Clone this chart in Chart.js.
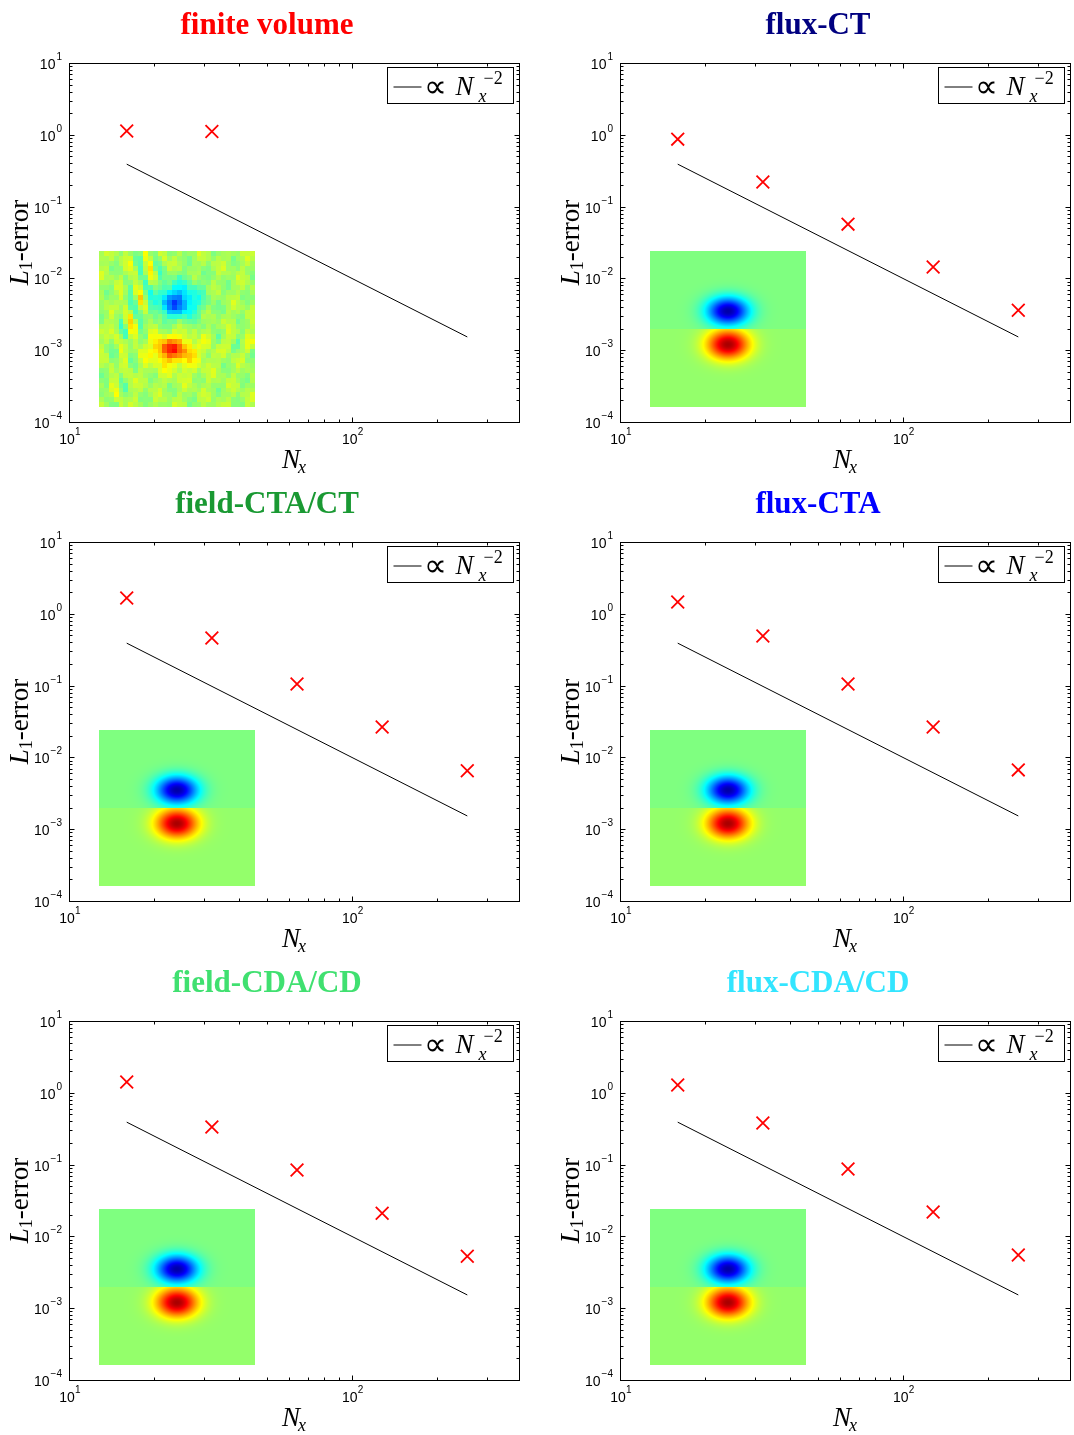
<!DOCTYPE html>
<html lang="en">
<head>
<meta charset="UTF-8">
<title>L1-error convergence</title>
<script src="https://cdn.jsdelivr.net/npm/chart.js@4.4.1/dist/chart.umd.min.js"></script>
<style>
  body { margin: 0; background: #fff; }
  #wrap { position: relative; width: 1074px; height: 1435px; }
  #wrap canvas { position: absolute; }
</style>
</head>
<body>
<div id="wrap"></div>
<script>
const nx = [16, 32, 64, 128, 256];
const errFiniteVolume = [1.13, 1.11];
const errFluxCT = [0.87, 0.22, 0.057, 0.0144, 0.0036];
const errFieldCTA = [1.66, 0.46, 0.105, 0.0265, 0.0065];
const errFluxCTA = [1.46, 0.49, 0.105, 0.0265, 0.0067];
const errFieldCDA = [1.41, 0.334, 0.084, 0.021, 0.0053];
const errFluxCDA = [1.28, 0.38, 0.087, 0.0219, 0.0055];

// reference slope line  ~ Nx^-2
const refNx = [16, 256];
const refErr = [0.39, 0.00153];

const titles = ['finite volume', 'flux-CT', 'field-CTA/CT', 'flux-CTA', 'field-CDA/CD', 'flux-CDA/CD'];
const titleColors = ['#ff0000', '#000080', '#1a9933', '#0000ff', '#40e070', '#33e5ff'];
const errors = [errFiniteVolume, errFluxCT, errFieldCTA, errFluxCTA, errFieldCDA, errFluxCDA];

const xMajor = [10, 100];
const yMajor = [1e-4, 1e-3, 1e-2, 1e-1, 1, 10];
const xMin = 10, xMax = 390, yMin = 1e-4, yMax = 10;

// jet colormap
function jet(v) {
  const c = t => Math.max(0, Math.min(1, t));
  return [c(1.5 - Math.abs(4 * v - 3)), c(1.5 - Math.abs(4 * v - 2)), c(1.5 - Math.abs(4 * v - 1))];
}

function g2(u, w, cu, cw, su, sw) {
  return Math.exp(-(Math.pow(u - cu, 2) / su + Math.pow(w - cw, 2) / sw));
}

function makeInset(kind) {
  const n = kind == 'fv' ? 32 : 156;
  const cv = document.createElement('canvas');
  cv.width = n; cv.height = n;
  const cx = cv.getContext('2d');
  const img = cx.createImageData(n, n);
  for (let j = 0; j < n; j++) {
    for (let i = 0; i < n; i++) {
      const u = i / (n - 1), w = j / (n - 1);
      let v;
      if (kind == 'fv') {
        v = 0.54 + 0.025 * Math.sin(1.3 * i + 0.4 * j) + 0.02 * Math.sin(0.7 * i - 1.1 * j) + 0.015 * Math.sin(2.9 * i + 1.7 * j);
        // diagonal streaks upper-left
        v += 0.1 * Math.sin((i - 0.35 * j) * 1.6) * Math.exp(-Math.pow(u - 0.32 + 0.25 * w, 2) / 0.012) * (w < 0.55 ? 1 : 0.5);
        // streaks right of the red blob
        v += 0.06 * Math.sin(1.4 * i + 0.5 * j) * Math.exp(-Math.pow(w - 0.55 - 0.1 * (u - 0.6), 2) / 0.006) * (u > 0.6 ? 1 : 0);
        // blue lobe with cyan halo
        v -= 0.2 * g2(u, w, 0.49, 0.33, 0.012, 0.008);
        v -= 0.13 * g2(u, w, 0.52, 0.3, 0.03, 0.02);
        // red lobe with yellow halo
        v += 0.2 * g2(u, w, 0.46, 0.63, 0.012, 0.005);
        v += 0.1 * g2(u, w, 0.5, 0.66, 0.03, 0.015);
      } else {
        if (w < 0.5) {
          v = 0.5 - 0.46 * g2(u, w, 0.5, 0.385, 0.018, 0.008);
        } else {
          v = 0.52 + 0.44 * g2(u, w, 0.5, 0.6, 0.018, 0.009);
        }
      }
      const col = jet(Math.max(0, Math.min(1, v)));
      const k = (j * n + i) * 4;
      img.data[k] = col[0] * 255; img.data[k + 1] = col[1] * 255; img.data[k + 2] = col[2] * 255; img.data[k + 3] = 255;
    }
  }
  cx.putImageData(img, 0, 0);
  return cv;
}

function sup(n) { return n < 0 ? '\u2212' + (-n) : '' + n; }

const SERIF = '"Liberation Serif", "Times New Roman", serif';
const SANS = '"Liberation Sans", Arial, sans-serif';

const decor = {
  id: 'decor',
  afterDatasetsDraw(chart, args, opts) {
    const ctx = chart.ctx;
    const a = chart.chartArea;
    const xs = chart.scales.x, ys = chart.scales.y;
    ctx.save();

    // inset image
    ctx.imageSmoothingEnabled = opts.kind != 'fv';
    ctx.drawImage(opts.inset, a.left + 30, a.top + 188, 156, 156);
    ctx.imageSmoothingEnabled = true;

    // box
    ctx.strokeStyle = '#000';
    ctx.lineWidth = 1;
    const L = Math.round(a.left) + 0.5, R = Math.round(a.right) + 0.5;
    const T = Math.round(a.top) + 0.5, B = Math.round(a.bottom) + 0.5;
    ctx.strokeRect(L, T, R - L, B - T);

    // ticks, inside, on all sides
    ctx.beginPath();
    for (let d = 10; d < xMax; d *= 10) {
      for (let m = 1; m <= 9; m++) {
        const val = d * m;
        if (val > xMax) break;
        const px = Math.round(xs.getPixelForValue(val)) + 0.5;
        const len = m == 1 ? 5 : 3;
        ctx.moveTo(px, B); ctx.lineTo(px, B - len);
        ctx.moveTo(px, T); ctx.lineTo(px, T + len);
      }
    }
    for (let d = yMin; d <= yMax; d *= 10) {
      for (let m = 1; m <= 9; m++) {
        const val = d * m;
        if (val > yMax * 1.0001) break;
        const py = Math.round(ys.getPixelForValue(val)) + 0.5;
        const len = m == 1 ? 5 : 3;
        ctx.moveTo(L, py); ctx.lineTo(L + len, py);
        ctx.moveTo(R, py); ctx.lineTo(R - len, py);
      }
    }
    ctx.stroke();

    // tick labels
    ctx.fillStyle = '#000';
    ctx.textBaseline = 'alphabetic';
    yMajor.forEach(v => {
      const py = ys.getPixelForValue(v);
      const e = sup(Math.round(Math.log10(v)));
      ctx.font = '10px ' + SANS;
      const ew = ctx.measureText(e).width;
      ctx.textAlign = 'left';
      ctx.fillText(e, a.left - 7 - ew, py - 3);
      ctx.font = '14px ' + SANS;
      ctx.textAlign = 'right';
      ctx.fillText('10', a.left - 8 - ew, py + 6);
    });
    xMajor.forEach(v => {
      const px = xs.getPixelForValue(v);
      const e = sup(Math.round(Math.log10(v)));
      ctx.font = '14px ' + SANS;
      ctx.textAlign = 'center';
      ctx.fillText('10', px - 2, a.bottom + 22);
      ctx.font = '10px ' + SANS;
      ctx.textAlign = 'left';
      ctx.fillText(e, px + 6, a.bottom + 13);
    });

    // x axis label N_x
    const cxm = (a.left + a.right) / 2;
    ctx.font = 'italic 27px ' + SERIF;
    ctx.textAlign = 'right';
    ctx.fillText('N', cxm + 6, a.bottom + 46);
    ctx.font = 'italic 18px ' + SERIF;
    ctx.textAlign = 'left';
    ctx.fillText('x', cxm + 4, a.bottom + 51);

    // y axis label L_1-error
    ctx.save();
    ctx.translate(a.left - 41, (a.top + a.bottom) / 2);
    ctx.rotate(-Math.PI / 2);
    ctx.font = 'italic 27px ' + SERIF;
    const w1 = ctx.measureText('L').width;
    ctx.font = '18px ' + SERIF;
    const w2 = ctx.measureText('1').width;
    ctx.font = '27px ' + SERIF;
    const w3 = ctx.measureText('-error').width;
    let x0 = -(w1 + w2 + w3) / 2;
    ctx.textAlign = 'left';
    ctx.font = 'italic 27px ' + SERIF;
    ctx.fillText('L', x0, 0);
    ctx.font = '18px ' + SERIF;
    ctx.fillText('1', x0 + w1, 4);
    ctx.font = '27px ' + SERIF;
    ctx.fillText('-error', x0 + w1 + w2, 0);
    ctx.restore();

    // legend
    const lx = Math.round(a.right) - 131.5, ly = Math.round(a.top) + 4.5;
    ctx.fillStyle = '#fff';
    ctx.fillRect(lx, ly, 126, 36);
    ctx.strokeStyle = '#000';
    ctx.lineWidth = 1;
    ctx.strokeRect(lx, ly, 126, 36);
    ctx.beginPath();
    ctx.moveTo(lx + 6, ly + 19.5); ctx.lineTo(lx + 34, ly + 19.5);
    ctx.stroke();
    ctx.fillStyle = '#000';
    ctx.font = '32px ' + SERIF;
    ctx.textAlign = 'left';
    ctx.fillText('\u221d', lx + 36, ly + 29);
    ctx.font = 'italic 27px ' + SERIF;
    ctx.fillText('N', lx + 68, ly + 27);
    ctx.font = 'italic 18px ' + SERIF;
    ctx.fillText('x', lx + 91, ly + 34);
    ctx.font = '18px ' + SERIF;
    ctx.fillText('\u22122', lx + 96, ly + 16);

    // title
    ctx.fillStyle = opts.color;
    ctx.font = 'bold 31px ' + SERIF;
    ctx.textAlign = 'center';
    ctx.fillText(opts.title, 267, 34);
    ctx.restore();
  }
};

const wrap = document.getElementById('wrap');
const W = 523, H = 479;

titles.forEach((title, p) => {
  const col = p % 2, row = Math.floor(p / 2);
  const cv = document.createElement('canvas');
  cv.width = W; cv.height = H;
  cv.style.left = (col * 551) + 'px';
  cv.style.top = (row * 479) + 'px';
  wrap.appendChild(cv);

  const errs = errors[p];
  const kind = p == 0 ? 'fv' : 'smooth';

  new Chart(cv.getContext('2d'), {
    type: 'line',
    data: {
      datasets: [{
        label: 'ref',
        data: refNx.map((x, i) => ({ x: x, y: refErr[i] })),
        borderColor: '#000',
        borderWidth: 1,
        pointRadius: 0,
        fill: false
      }, {
        label: 'error',
        data: errs.map((y, i) => ({ x: nx[i], y: y })),
        showLine: false,
        pointStyle: 'crossRot',
        pointRadius: 9,
        borderColor: '#ff0000',
        borderWidth: 1.8,
        backgroundColor: '#ff0000'
      }]
    },
    options: {
      responsive: false,
      animation: false,
      events: [],
      layout: { autoPadding: false, padding: { left: 69, top: 63, right: W - 519, bottom: H - 422 } },
      plugins: {
        legend: { display: false },
        tooltip: { enabled: false },
        decor: { title: title, color: titleColors[p], kind: kind, inset: makeInset(kind) }
      },
      scales: {
        x: { type: 'logarithmic', min: xMin, max: xMax, display: false },
        y: { type: 'logarithmic', min: yMin, max: yMax, display: false }
      }
    },
    plugins: [decor]
  });
});
</script>
</body>
</html>
